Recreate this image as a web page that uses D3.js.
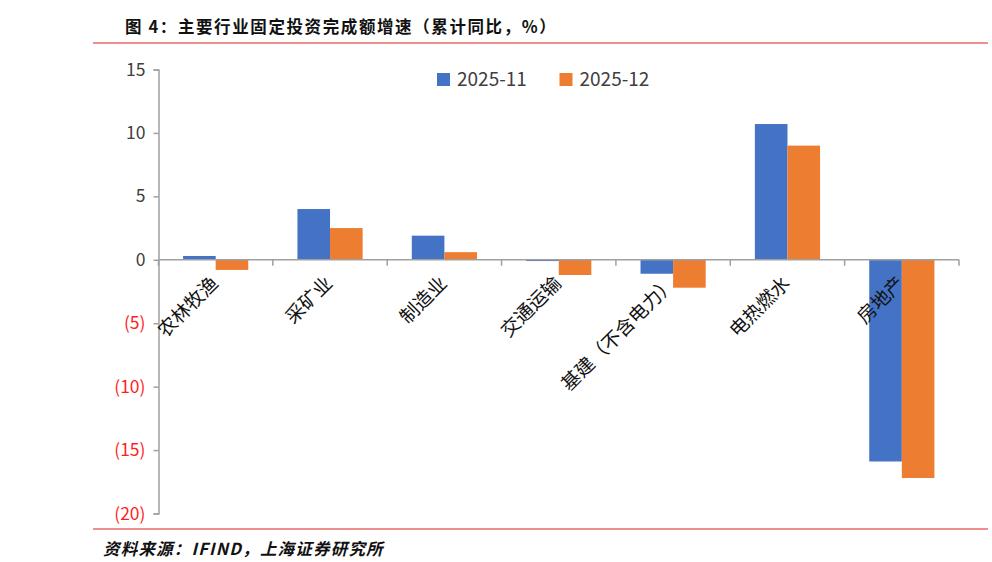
<!DOCTYPE html>
<html><head><meta charset="utf-8">
<script src="https://cdn.jsdelivr.net/npm/d3@7"></script>
<style>
body{margin:0;background:#fff;}
svg{display:block;}
</style></head>
<body>
<svg id="c" width="992" height="562"></svg>
<script>
const categories = ["农林牧渔","采矿业","制造业","交通运输","基建（不含电力）","电热燃水","房地产"];
const seriesNames = ["2025-11","2025-12"];
const nov = [0.3, 4.0, 1.9, -0.1, -1.1, 10.7, -15.9];
const dec = [-0.8, 2.5, 0.6, -1.2, -2.2, 9.0, -17.2];
const yTicks = [15,10,5,0,-5,-10,-15,-20];
const colors = ["#4472C4","#ED7D31"];
const title = "图 4：主要行业固定投资完成额增速（累计同比，%）";
const source = "资料来源：IFIND，上海证券研究所";

const svg = d3.select("#c");
const font = "'Noto Sans CJK SC','Noto Sans',sans-serif";
const L = 158.5, R = 959, T = 69.5, B = 513.5;

// title + rules
svg.append("text").attr("x",125).attr("y",33).attr("font-family",font)
  .attr("font-weight","bold").attr("font-size",16.5).attr("letter-spacing",1.6)
  .attr("fill","#111").text(title);
svg.append("line").attr("x1",93).attr("x2",988).attr("y1",43).attr("y2",43)
  .attr("stroke","#e0201c").attr("stroke-width",1.2);
svg.append("line").attr("x1",93).attr("x2",988).attr("y1",529).attr("y2",529)
  .attr("stroke","#e0201c").attr("stroke-width",1.2);
svg.append("text").attr("x",103).attr("y",555).attr("font-family",font)
  .attr("font-weight","bold").attr("font-style","italic").attr("font-size",16.5)
  .attr("letter-spacing",1.2).attr("fill","#111").text(source);

const y = d3.scaleLinear().domain([-20,15]).range([B,T]);
const x0 = d3.scaleBand().domain(categories).range([L,R]).paddingInner(0).paddingOuter(0);
const gap = 0.43;
const x1 = d3.scaleBand().domain(seriesNames).range([x0.bandwidth()*gap/2, x0.bandwidth()*(1-gap/2)]);

const data = categories.map((c,i)=>({c, v:[nov[i],dec[i]]}));

// bars
const g = svg.append("g");
data.forEach(d=>{
  seriesNames.forEach((s,j)=>{
    const v = d.v[j];
    g.append("rect")
      .attr("x", x0(d.c)+x1(s))
      .attr("width", x1.bandwidth())
      .attr("y", y(Math.max(0,v)))
      .attr("height", Math.abs(y(v)-y(0)))
      .attr("fill", colors[j]);
  });
});

// y axis
const axisColor = "#a0a0a0";
const yAxis = d3.axisLeft(y).tickValues(yTicks).tickSize(5).tickPadding(8)
  .tickFormat(d => d<0 ? "("+Math.abs(d)+")" : d);
const ya = svg.append("g").attr("transform",`translate(${L},0)`).call(yAxis);
ya.select(".domain").attr("stroke",axisColor).attr("stroke-width",1.5);
ya.selectAll(".tick line").attr("stroke",axisColor).attr("stroke-width",1.5);
ya.selectAll(".tick text").attr("font-family",font).attr("font-size",17.5)
  .attr("fill", d => d<0 ? "#ff1f1f" : "#404040");

// x axis at zero
const xa = svg.append("g").attr("transform",`translate(0,${y(0)})`);
xa.append("line").attr("x1",L).attr("x2",R).attr("stroke",axisColor).attr("stroke-width",1.5);
const bounds = categories.map(c=>x0(c)).concat([R]);
xa.selectAll("line.tk").data(bounds).enter().append("line").attr("class","tk")
  .attr("x1",d=>d).attr("x2",d=>d).attr("y1",0).attr("y2",6)
  .attr("stroke",axisColor).attr("stroke-width",1.5);

// category labels
svg.append("g").selectAll("text").data(categories).enter().append("text")
  .attr("transform", d => `translate(${x0(d)+x0.bandwidth()/2-1},${y(0)+20}) rotate(-45)`)
  .attr("text-anchor","end").attr("dy","0.35em")
  .attr("font-family",font).attr("font-size",19).attr("fill","#111").text(d=>d);

// legend
const lg = svg.append("g");
const lx = [437,559.5];
seriesNames.forEach((s,j)=>{
  lg.append("rect").attr("x",lx[j]).attr("y",73).attr("width",13).attr("height",13).attr("fill",colors[j]);
  lg.append("text").attr("x",lx[j]+20).attr("y",86).attr("font-family",font)
    .attr("font-size",19).attr("fill","#404040").text(s);
});
</script>
</body></html>
